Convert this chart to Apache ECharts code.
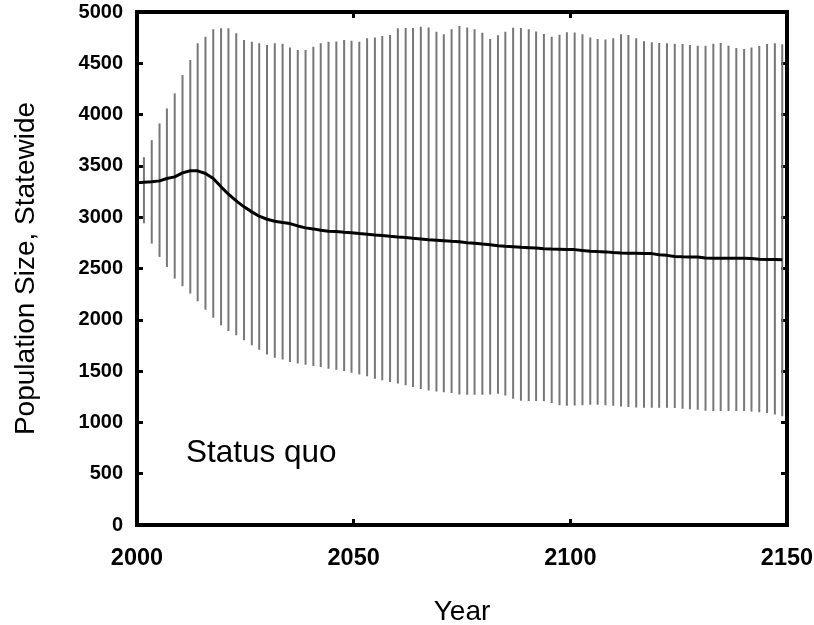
<!DOCTYPE html>
<html><head><meta charset="utf-8">
<script src="https://cdn.jsdelivr.net/npm/echarts@6/dist/echarts.min.js"></script>
<style>html,body{margin:0;background:#fff}#c{width:814px;height:625px}</style>
</head><body><div id="c"></div>
<script>
const years=[2000,2001.6,2003.4,2005.2,2006.9,2008.7,2010.5,2012.3,2014.0,2015.8,2017.6,2019.4,2021.1,2022.9,2024.7,2026.5,2028.2,2030.0,2031.8,2033.6,2035.3,2037.1,2038.9,2040.7,2042.4,2044.2,2046.0,2047.8,2049.5,2051.3,2053.1,2054.9,2056.6,2058.4,2060.2,2062.0,2063.7,2065.5,2067.3,2069.1,2070.8,2072.6,2074.4,2076.2,2077.9,2079.7,2081.5,2083.3,2085.0,2086.8,2088.6,2090.4,2092.1,2093.9,2095.7,2097.5,2099.2,2101.0,2102.8,2104.6,2106.3,2108.1,2109.9,2111.7,2113.4,2115.2,2117.0,2118.8,2120.5,2122.3,2124.1,2125.9,2127.6,2129.4,2131.2,2133.0,2134.7,2136.5,2138.3,2140.1,2141.8,2143.6,2145.4,2147.2,2148.9];
const upper=[3335,3585,3751,3914,4060,4207,4385,4532,4695,4759,4831,4841,4841,4792,4727,4710,4695,4678,4695,4690,4655,4630,4630,4662,4695,4710,4712,4727,4720,4710,4743,4752,4766,4776,4841,4843,4843,4857,4850,4808,4782,4831,4863,4850,4831,4798,4737,4773,4808,4847,4843,4831,4811,4785,4759,4779,4802,4800,4782,4752,4737,4733,4743,4782,4776,4743,4714,4704,4698,4695,4691,4688,4678,4672,4672,4691,4698,4672,4649,4639,4655,4668,4688,4695,4685];
const lower=[3335,2940,2743,2613,2515,2402,2327,2256,2180,2099,2021,1946,1891,1849,1800,1751,1709,1663,1631,1612,1588,1573,1563,1549,1540,1524,1514,1500,1483,1466,1449,1426,1410,1393,1378,1361,1344,1325,1312,1302,1293,1286,1273,1270,1270,1270,1273,1280,1263,1231,1212,1208,1208,1205,1188,1166,1163,1165,1166,1173,1173,1166,1163,1156,1149,1146,1143,1143,1143,1143,1140,1134,1127,1124,1114,1111,1111,1111,1111,1111,1107,1100,1091,1078,1059];
const mean=[3335,3340,3345,3354,3377,3393,3432,3452,3452,3426,3377,3296,3224,3159,3101,3052,3010,2980,2961,2948,2938,2915,2896,2886,2873,2863,2860,2853,2848,2840,2834,2826,2821,2814,2808,2803,2794,2788,2781,2776,2771,2765,2760,2752,2747,2738,2732,2722,2717,2712,2706,2703,2700,2693,2690,2688,2686,2684,2676,2668,2665,2662,2655,2650,2649,2648,2647,2645,2635,2628,2617,2614,2613,2612,2603,2601,2600,2600,2600,2599,2597,2590,2588,2587,2586];
const xRange=[2000,2150,50];
const yRange=[0,5000,500];
const xTitle='Year';
const yTitle='Population Size, Statewide';
const panelLabel='Status quo';

const FONT="'Liberation Sans', Arial, sans-serif";
const chart=echarts.init(document.getElementById('c'),null,{renderer:'canvas'});
function axLine(){return {show:true,onZero:false,lineStyle:{color:'#000',width:4,cap:'square'}};}
function axTick(){return {show:true,inside:true,length:6,lineStyle:{color:'#000',width:3}};}
function xAx(pos,main){
  return {type:'value',min:xRange[0],max:xRange[1],interval:xRange[2],position:pos,
    axisLine:axLine(),axisTick:axTick(),splitLine:{show:false},
    axisLabel:{show:main,color:'#000',fontSize:23.5,fontWeight:'bold',fontFamily:FONT,margin:22,
      formatter:function(v){return String(v);}},
    name:main?xTitle:'',nameLocation:'middle',nameGap:73,
    nameTextStyle:{color:'#000',fontSize:28,fontFamily:FONT}};
}
function yAx(pos,main){
  return {type:'value',min:yRange[0],max:yRange[1],interval:yRange[2],position:pos,
    axisLine:axLine(),axisTick:axTick(),splitLine:{show:false},
    axisLabel:{show:main,color:'#000',fontSize:20,fontWeight:'bold',fontFamily:FONT,margin:14,
      formatter:function(v){return String(v);}},
    name:main?yTitle:'',nameLocation:'middle',nameGap:97,
    nameTextStyle:{color:'#000',fontSize:28,fontFamily:FONT}};
}
chart.setOption({
  animation:false,
  backgroundColor:'#fff',
  title:{text:panelLabel,left:186,top:437,padding:0,
    textStyle:{color:'#000',fontSize:31.5,fontWeight:'normal',fontFamily:FONT}},
  grid:{left:137,right:27,top:12,bottom:100,containLabel:false,outerBoundsMode:'none'},
  xAxis:[xAx('bottom',true),xAx('top',false)],
  yAxis:[yAx('left',true),yAx('right',false)],
  series:[
    {type:'custom',xAxisIndex:0,yAxisIndex:0,
     data:years.map((y,i)=>[y,lower[i],upper[i]]),
     encode:{x:0,y:[1,2]},
     renderItem:function(params,api){
       const x=api.value(0);
       const p1=api.coord([x,api.value(1)]);
       const p2=api.coord([x,api.value(2)]);
       return {type:'line',shape:{x1:p1[0],y1:p1[1],x2:p2[0],y2:p2[1]},
         style:{stroke:'#777777',lineWidth:2}};
     },z:2},
    {type:'line',xAxisIndex:0,yAxisIndex:0,
     data:years.map((y,i)=>[y,mean[i]]),
     showSymbol:false,symbol:'none',
     lineStyle:{color:'#000',width:3},z:3}
  ]
});
</script></body></html>
